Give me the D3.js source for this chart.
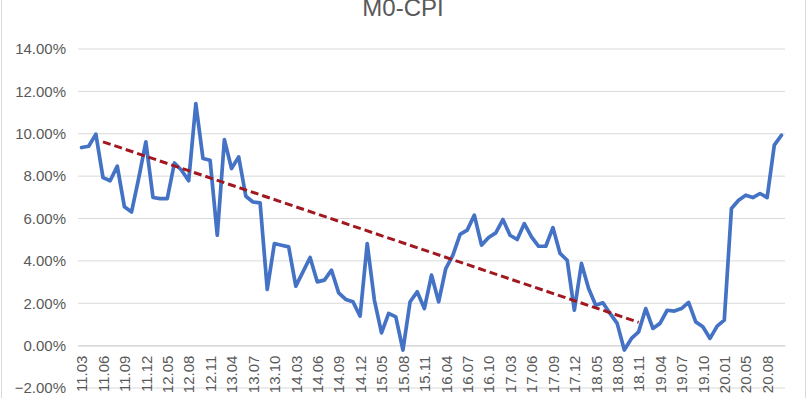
<!DOCTYPE html>
<html lang="zh">
<head>
<meta charset="UTF-8">
<title>M0-CPI</title>
<script src="https://d3js.org/d3.v7.min.js"></script>
<style>
    body { margin: 0; background: #fff; }
    svg { display: block; font-family: "Liberation Sans", Arial, sans-serif; }
</style>
</head>
<body>
<div id="chart"></div>
<script>
// monthly categories (Jan/Feb merged away in most years)
var categories = [
    "11.03","11.04","11.05","11.06","11.07","11.08","11.09","11.10","11.11","11.12",
    "12.03","12.04","12.05","12.06","12.07","12.08","12.09","12.10","12.11","12.12",
    "13.03","13.04","13.05","13.06","13.07","13.08","13.09","13.10","13.11","13.12",
    "14.03","14.04","14.05","14.06","14.07","14.08","14.09","14.10","14.11","14.12",
    "15.03","15.04","15.05","15.06","15.07","15.08","15.09","15.10","15.11","15.12",
    "16.03","16.04","16.05","16.06","16.07","16.08","16.09","16.10","16.11","16.12",
    "17.03","17.04","17.05","17.06","17.07","17.08","17.09","17.10","17.11","17.12",
    "18.03","18.04","18.05","18.06","18.07","18.08","18.09","18.10","18.11","18.12",
    "19.03","19.04","19.05","19.06","19.07","19.08","19.09","19.10","19.11","19.12",
    "20.01","20.03","20.04","20.05","20.06","20.07","20.08","20.09","20.10"
];

// M0 growth minus CPI, in percent
var m0cpi = [
    9.35, 9.41, 9.98, 7.93, 7.78, 8.47, 6.55, 6.31, 7.90, 9.62,
    6.99, 6.94, 6.94, 8.62, 8.28, 7.78, 11.42, 8.83, 8.75, 5.21,
    9.72, 8.36, 8.91, 7.05, 6.78, 6.74, 2.65, 4.82, 4.74, 4.66,
    2.81, 3.48, 4.16, 3.01, 3.09, 3.56, 2.49, 2.18, 2.07, 1.39,
    4.82, 2.15, 0.60, 1.52, 1.36, -0.21, 2.07, 2.54, 1.75, 3.33,
    2.07, 3.64, 4.27, 5.25, 5.45, 6.16, 4.74, 5.10, 5.32, 5.95,
    5.21, 5.01, 5.76, 5.13, 4.69, 4.69, 5.57, 4.35, 4.03, 1.67,
    3.88, 2.70, 1.91, 2.02, 1.52, 1.05, -0.21, 0.34, 0.65, 1.75,
    0.81, 1.05, 1.67, 1.63, 1.75, 2.04, 1.12, 0.89, 0.34, 0.92,
    1.20, 6.47, 6.86, 7.10, 6.99, 7.18, 6.99, 9.46, 9.93
];

// dashed downward trend drawn on the chart
var trendCats = ["11.06", "18.11"];
var trendVals = [9.62, 1.10];

var xTickLabels = [
    "11.03","11.06","11.09","11.12","12.05","12.08","12.11","13.04","13.07","13.10",
    "14.03","14.06","14.09","14.12","15.05","15.08","15.11","16.04","16.07","16.10",
    "17.03","17.06","17.09","17.12","18.05","18.08","18.11","19.04","19.07","19.10",
    "20.01","20.05","20.08"
];
var yTicks = [-2, 0, 2, 4, 6, 8, 10, 12, 14];

function draw() {
    var width = 809, height = 398;
    var plotLeft = 78, plotRight = 785, plotTop = 49, plotBottom = 388;

    var svg = d3.select("#chart").append("svg")
        .attr("width", width)
        .attr("height", height);

    // chart border
    svg.append("rect")
        .attr("x", 1.5).attr("y", -2)
        .attr("width", 804).attr("height", height + 4)
        .attr("fill", "none")
        .attr("stroke", "#d9d9d9");

    var x = d3.scalePoint()
        .domain(categories)
        .range([plotLeft, plotRight])
        .padding(0.5);

    var y = d3.scaleLinear()
        .domain([-2, 14])
        .range([plotBottom, plotTop]);

    // gridlines
    svg.append("g")
        .selectAll("line")
        .data(yTicks)
        .join("line")
        .attr("x1", plotLeft).attr("x2", plotRight)
        .attr("y1", d => y(d)).attr("y2", d => y(d))
        .attr("stroke", "#d9d9d9")
        .attr("stroke-width", 1);

    // y axis labels
    var yAxis = d3.axisLeft(y)
        .tickValues(yTicks)
        .tickSize(0)
        .tickPadding(0)
        .tickFormat(d => d3.format(".2f")(d) + "%");

    svg.append("g")
        .attr("transform", "translate(66,0)")
        .call(yAxis)
        .call(g => g.select(".domain").remove())
        .selectAll("text")
        .attr("fill", "#595959")
        .style("font-size", "15px");

    // x axis at zero, labels rotated
    var xAxis = d3.axisBottom(x)
        .tickValues(xTickLabels)
        .tickSize(0);

    svg.append("g")
        .attr("transform", "translate(0," + y(0) + ")")
        .call(xAxis)
        .call(g => g.select(".domain").attr("stroke", "#d9d9d9"))
        .selectAll("text")
        .attr("transform", "rotate(-90)")
        .attr("text-anchor", "end")
        .attr("x", -10)
        .attr("y", 0)
        .attr("dy", "0.35em")
        .attr("fill", "#595959")
        .style("font-size", "15px");

    // main line
    var line = d3.line()
        .x((d, i) => x(categories[i]))
        .y(d => y(d));

    svg.append("path")
        .datum(m0cpi)
        .attr("d", line)
        .attr("fill", "none")
        .attr("stroke", "#4472c4")
        .attr("stroke-width", 3.7)
        .attr("stroke-linejoin", "round")
        .attr("stroke-linecap", "round");

    // trend line
    var trendLine = d3.line()
        .x((d, i) => x(trendCats[i]))
        .y(d => y(d));

    svg.append("path")
        .datum(trendVals)
        .attr("d", trendLine)
        .attr("fill", "none")
        .attr("stroke", "#a11820")
        .attr("stroke-width", 3)
        .attr("stroke-dasharray", "8,4");

    // title, partly cut off at the top like the source
    svg.append("text")
        .attr("x", 403)
        .attr("y", 16)
        .attr("text-anchor", "middle")
        .attr("fill", "#595959")
        .style("font-size", "24px")
        .text("M0-CPI");
}

draw();
</script>
</body>
</html>
